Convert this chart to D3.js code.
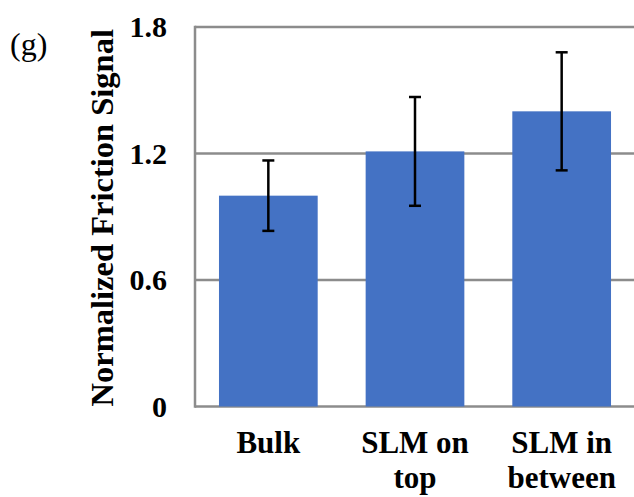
<!DOCTYPE html>
<html>
<head>
<meta charset="utf-8">
<script src="https://cdn.jsdelivr.net/npm/d3@7"></script>
<style>
  html, body { margin: 0; padding: 0; background: #fff; }
  svg { display: block; }
</style>
</head>
<body>
<svg id="chart" width="634" height="497"></svg>
<script>
// Sample categories and their measured values
const categories = ["Bulk", "SLM on top", "SLM in between"];
const categoryLines = [["Bulk"], ["SLM on", "top"], ["SLM in", "between"]];
const frictionMean = [1.00, 1.21, 1.40];
const frictionError = [0.167, 0.258, 0.28];
const yTicks = [0, 0.6, 1.2, 1.8];
const yTickLabels = ["0", "0.6", "1.2", "1.8"];

const svg = d3.select("#chart");
const serif = "'Liberation Serif', 'Times New Roman', serif";

const plot = { left: 195, right: 635, top: 27, bottom: 406.5 };

const x = d3.scaleBand()
  .domain(categories)
  .range([plot.left, plot.right])
  .paddingInner(0.327)
  .paddingOuter(0.1635);

const y = d3.scaleLinear()
  .domain([0, 1.8])
  .range([plot.bottom, plot.top]);

const gridColor = "#8c8c8c";

// Horizontal gridlines
svg.append("g")
  .selectAll("line")
  .data(yTicks)
  .join("line")
  .attr("x1", plot.left)
  .attr("x2", plot.right)
  .attr("y1", d => y(d))
  .attr("y2", d => y(d))
  .attr("stroke", gridColor)
  .attr("stroke-width", 2.5);

// Vertical axis line
svg.append("line")
  .attr("x1", plot.left).attr("x2", plot.left)
  .attr("y1", y(1.8) - 1.25).attr("y2", y(0) + 1.25)
  .attr("stroke", gridColor)
  .attr("stroke-width", 2.5);

// Bars
svg.append("g")
  .selectAll("rect")
  .data(categories)
  .join("rect")
  .attr("x", d => x(d))
  .attr("width", x.bandwidth())
  .attr("y", (d, i) => y(frictionMean[i]))
  .attr("height", (d, i) => y(0) - y(frictionMean[i]))
  .attr("fill", "#4472C4");

// Error bars
const capHalf = 6;
const err = svg.append("g")
  .attr("stroke", "#000")
  .attr("stroke-width", 2.5)
  .selectAll("g")
  .data(categories)
  .join("g");

err.append("line")
  .attr("x1", d => x(d) + x.bandwidth() / 2)
  .attr("x2", d => x(d) + x.bandwidth() / 2)
  .attr("y1", (d, i) => y(frictionMean[i] + frictionError[i]))
  .attr("y2", (d, i) => y(frictionMean[i] - frictionError[i]));
err.append("line")
  .attr("x1", d => x(d) + x.bandwidth() / 2 - capHalf)
  .attr("x2", d => x(d) + x.bandwidth() / 2 + capHalf)
  .attr("y1", (d, i) => y(frictionMean[i] + frictionError[i]))
  .attr("y2", (d, i) => y(frictionMean[i] + frictionError[i]));
err.append("line")
  .attr("x1", d => x(d) + x.bandwidth() / 2 - capHalf)
  .attr("x2", d => x(d) + x.bandwidth() / 2 + capHalf)
  .attr("y1", (d, i) => y(frictionMean[i] - frictionError[i]))
  .attr("y2", (d, i) => y(frictionMean[i] - frictionError[i]));

// Y tick labels
const yAxis = d3.axisLeft(y)
  .tickValues(yTicks)
  .tickFormat((d, i) => yTickLabels[i])
  .tickSize(0)
  .tickPadding(28);

const yAxisG = svg.append("g")
  .attr("transform", `translate(${plot.left},0)`)
  .call(yAxis);
yAxisG.select(".domain").remove();
yAxisG.selectAll("text")
  .attr("font-family", serif)
  .attr("font-weight", "bold")
  .attr("font-size", 30)
  .attr("fill", "#000");

// Category labels
const catG = svg.append("g")
  .attr("font-family", serif)
  .attr("font-weight", "bold")
  .attr("font-size", 31)
  .attr("fill", "#000")
  .attr("text-anchor", "middle");

categories.forEach((c, i) => {
  const t = catG.append("text")
    .attr("x", x(c) + x.bandwidth() / 2)
    .attr("y", 453);
  categoryLines[i].forEach((line, j) => {
    t.append("tspan")
      .attr("x", x(c) + x.bandwidth() / 2)
      .attr("dy", j === 0 ? 0 : 35)
      .text(line);
  });
});

// Y axis title
svg.append("text")
  .attr("transform", `translate(113, ${(plot.top + plot.bottom) / 2 + 1}) rotate(-90)`)
  .attr("text-anchor", "middle")
  .attr("font-family", serif)
  .attr("font-weight", "bold")
  .attr("font-size", 32.5)
  .attr("fill", "#000")
  .text("Normalized Friction Signal");

// Panel label
svg.append("text")
  .attr("x", 10)
  .attr("y", 55)
  .attr("font-family", serif)
  .attr("font-size", 32)
  .attr("fill", "#000")
  .text("(g)");
</script>
</body>
</html>
